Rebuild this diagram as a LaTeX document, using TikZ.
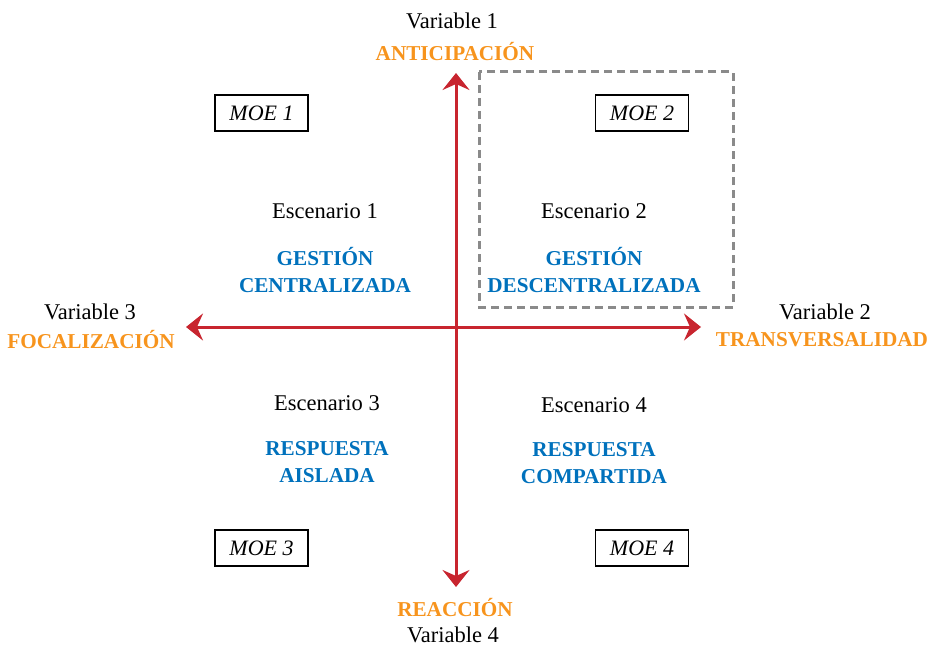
\documentclass[tikz,border=0pt]{standalone}
\usepackage{fontspec}
\setmainfont{Liberation Serif}
\usetikzlibrary{arrows.meta}
\definecolor{axisred}{HTML}{C8252F}
\definecolor{varorange}{HTML}{F7941D}
\definecolor{scenblue}{HTML}{0071BC}
\definecolor{dashgray}{HTML}{8A8A8A}
\tikzset{
  axis/.style={draw=axisred, line width=3pt, {Stealth[length=17pt,width=27pt,inset=6pt]}-{Stealth[length=17pt,width=27pt,inset=6pt]}},
  varlbl/.style={font=\fontsize{22.5}{24}\selectfont, text=black, inner sep=0pt},
  vartitle/.style={font=\fontsize{21.2}{24}\selectfont\bfseries, text=varorange, inner sep=0pt},
  scenlbl/.style={font=\fontsize{22.5}{24}\selectfont, text=black, inner sep=0pt},
  scentitle/.style={font=\fontsize{21.2}{27}\selectfont\bfseries, text=scenblue, align=center, inner sep=0pt},
  moebox/.style={draw=black, line width=1.3pt, minimum width=93pt, minimum height=36pt, font=\fontsize{22}{24}\selectfont\itshape, inner sep=0pt},
  dashbox/.style={draw=dashgray, line width=3pt, dash pattern=on 8pt off 5pt}
}
\begin{document}
\begin{tikzpicture}[x=1pt,y=-1pt]
\useasboundingbox (0,0) rectangle (931,647);
% dashed box
\draw[dashbox] (479,72) rectangle (733,307);
% axes
\coordinate (c) at (456,327);
\coordinate (top) at (456,73);
\coordinate (bot) at (456,587);
\coordinate (left) at (186,327);
\coordinate (right) at (701,327);
\draw[axis] (top) -- (bot);
\draw[axis] (left) -- (right);
% variable labels
\node[varlbl] (v1) at (452,21) {Variable 1};
\node[vartitle] (v1t) at (455,52) {ANTICIPACIÓN};
\node[varlbl] (v3) at (90,312) {Variable 3};
\node[vartitle] (v3t) at (91,340) {FOCALIZACIÓN};
\node[varlbl] (v2) at (825,312) {Variable 2};
\node[vartitle] (v2t) at (822,340) {TRANSVERSALIDAD};
\node[vartitle] (v4t) at (455,608) {REACCIÓN};
\node[varlbl, anchor=base] (v4) at (453,642.5) {Variable 4};
% MOE boxes
\node[moebox] (m1) at (261.5,113) {MOE 1};
\node[moebox] (m2) at (642,113) {MOE 2};
\node[moebox] (m3) at (261.5,548) {MOE 3};
\node[moebox] (m4) at (642,548) {MOE 4};
% scenarios
\node[scenlbl] (e1) at (325,211) {Escenario 1};
\node[scentitle] (s1) at (325,270.5) {GESTIÓN\\CENTRALIZADA};
\node[scenlbl] (e2) at (594,211) {Escenario 2};
\node[scentitle] (s2) at (594,270.5) {GESTIÓN\\DESCENTRALIZADA};
\node[scenlbl] (e3) at (327,403) {Escenario 3};
\node[scentitle] (s3) at (327,462) {RESPUESTA\\AISLADA};
\node[scenlbl] (e4) at (594,405) {Escenario 4};
\node[scentitle] (s4) at (594,463.5) {RESPUESTA\\COMPARTIDA};
\end{tikzpicture}
\end{document}
